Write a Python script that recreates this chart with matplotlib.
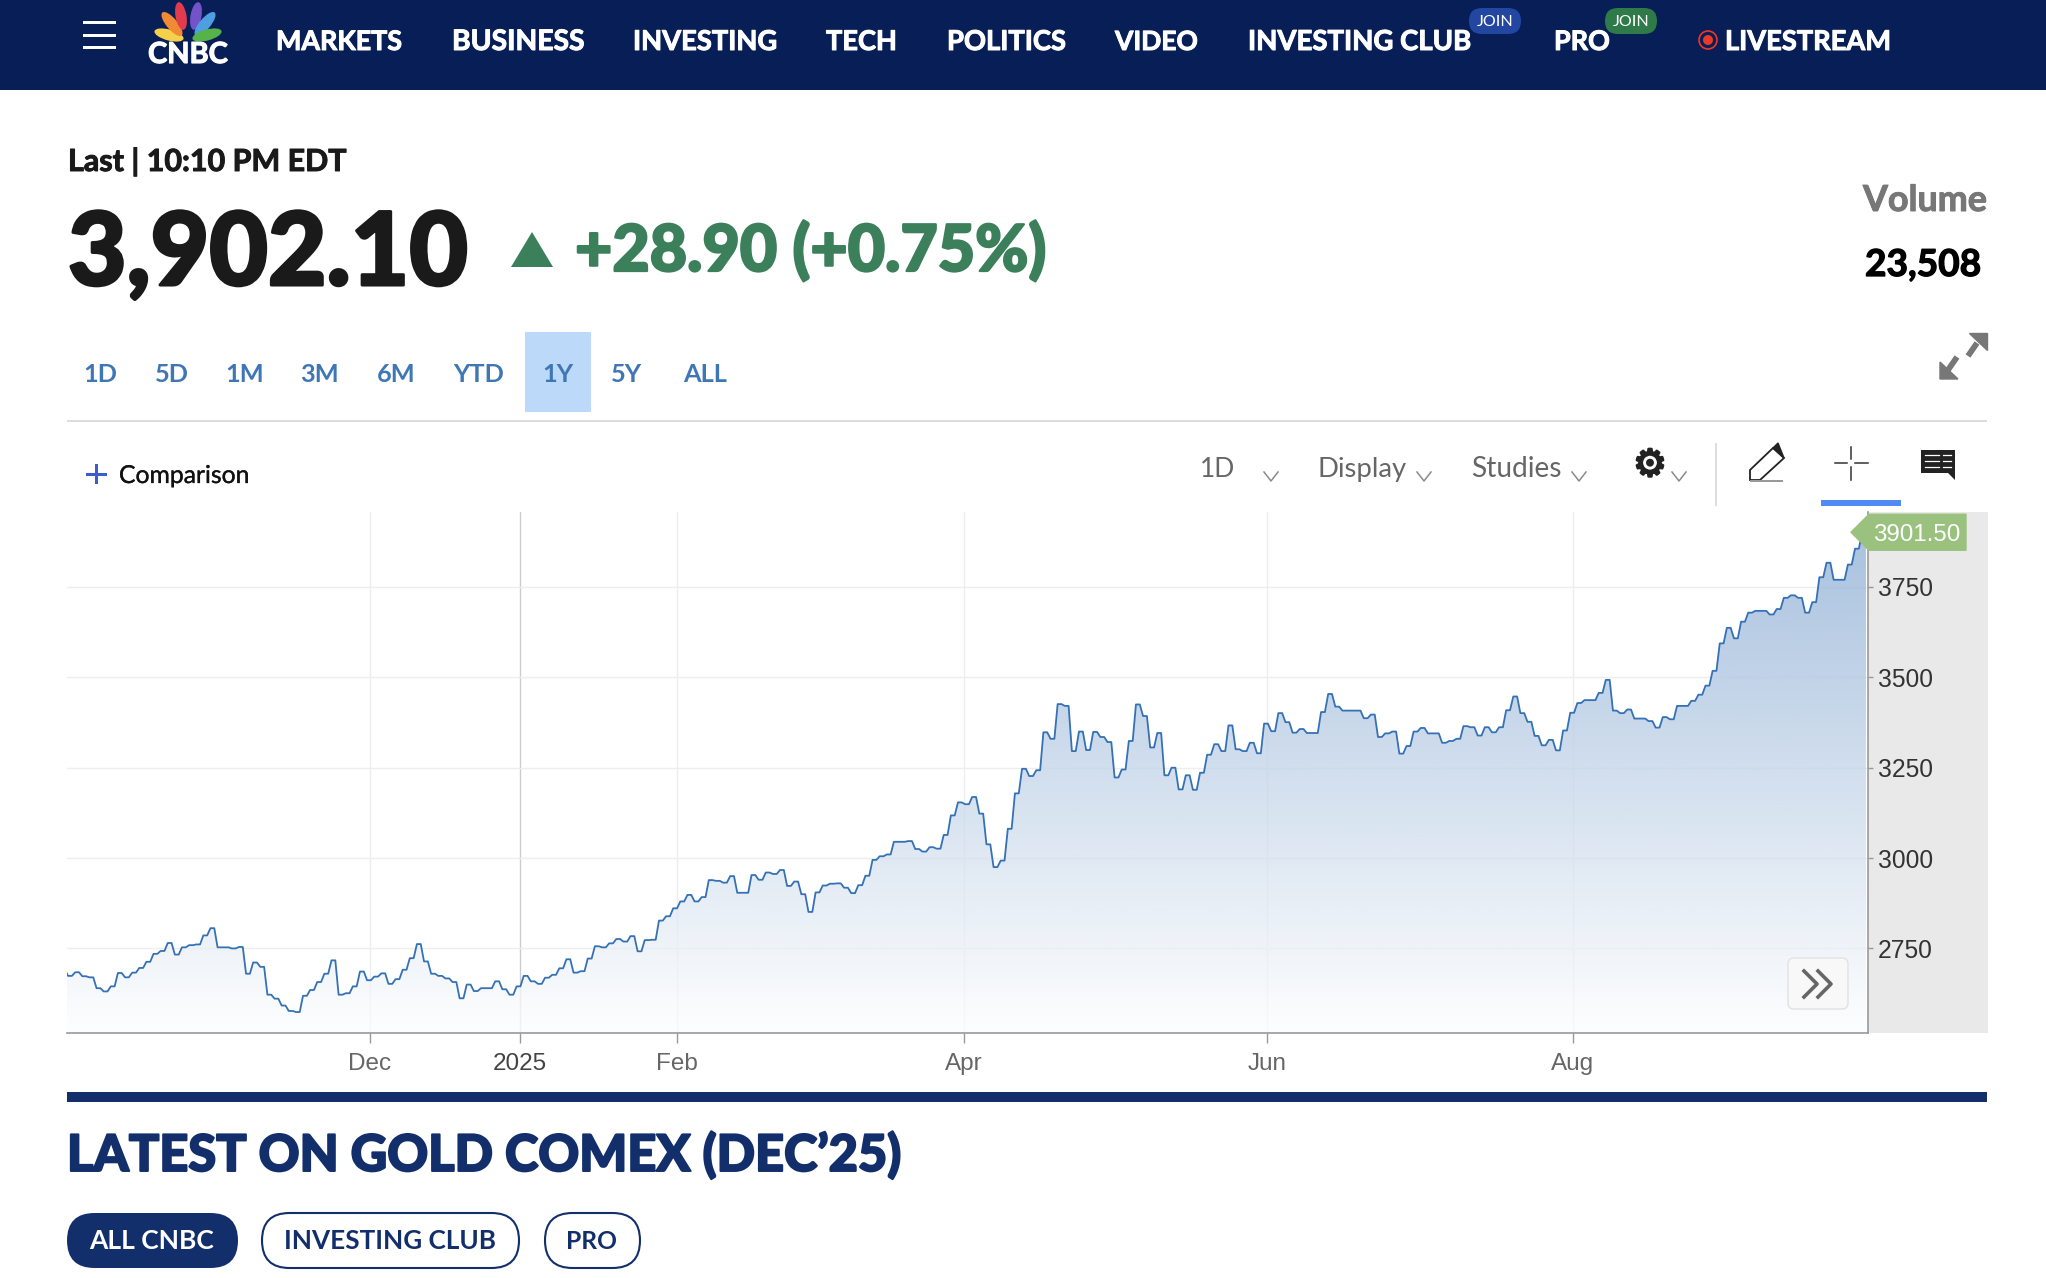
import numpy as np
import matplotlib
matplotlib.use('Agg')
import matplotlib.pyplot as plt
import matplotlib.patheffects as pe
from matplotlib.patches import Rectangle, Polygon, Ellipse, Circle, FancyBboxPatch

W, H = 2046, 1278

# daily closes, one per trading session
price = [2692, 2674, 2684, 2673, 2670, 2640, 2631, 2645, 2682, 2670, 2683, 2696, 2713, 2735, 2743, 2765,
         2733, 2753, 2759, 2761, 2786, 2806, 2753, 2753, 2750, 2754, 2680, 2711, 2699, 2622, 2611, 2592,
         2577, 2574, 2619, 2635, 2657, 2680, 2717, 2622, 2626, 2645, 2686, 2662, 2672, 2681, 2652, 2665,
         2691, 2723, 2762, 2714, 2680, 2674, 2667, 2657, 2612, 2650, 2632, 2640, 2640, 2659, 2637, 2622,
         2645, 2674, 2659, 2652, 2669, 2677, 2695, 2720, 2683, 2687, 2722, 2756, 2753, 2764, 2776, 2769,
         2784, 2742, 2773, 2774, 2827, 2839, 2861, 2880, 2898, 2880, 2892, 2939, 2937, 2932, 2950, 2904,
         2904, 2953, 2940, 2960, 2956, 2967, 2923, 2935, 2900, 2851, 2905, 2924, 2929, 2930, 2918, 2903,
         2925, 2951, 2995, 3005, 3010, 3045, 3045, 3047, 3025, 3018, 3030, 3026, 3064, 3118, 3154, 3149,
         3169, 3123, 3038, 2975, 2993, 3081, 3179, 3247, 3227, 3243, 3348, 3330, 3426, 3421, 3296,
         3350, 3299, 3349, 3335, 3321, 3223, 3245, 3324, 3425, 3393, 3306, 3346, 3229, 3250, 3190, 3229,
         3189, 3236, 3286, 3315, 3296, 3367, 3301, 3296, 3319, 3290, 3372, 3351, 3401, 3376, 3347, 3357,
         3346, 3346, 3404, 3454, 3419, 3408, 3408, 3408, 3387, 3397, 3335, 3345, 3350, 3289, 3310, 3350, 3360,
         3345, 3345, 3319, 3324, 3330, 3365, 3362, 3339, 3362, 3348, 3362, 3409, 3447, 3401, 3377, 3338,
         3312, 3327, 3298, 3353, 3402, 3429, 3437, 3437, 3457, 3493, 3408, 3401, 3411, 3386, 3386, 3379,
         3361, 3390, 3384, 3421, 3421, 3435, 3452, 3477, 3518, 3594, 3637, 3608, 3654, 3679, 3684, 3684,
         3674, 3689, 3720, 3727, 3720, 3679, 3708, 3777, 3817, 3770, 3770, 3812, 3856, 3901.5]

month_labels = ['Dec', '2025', 'Feb', 'Apr', 'Jun', 'Aug']
month_session = [43.1, 64.2, 86.3, 126.6, 169.2, 212.1]
price_ticks = [2750, 3000, 3250, 3500, 3750]

nav_items = [('MARKETS', 276, 402), ('BUSINESS', 452, 584), ('INVESTING', 633, 777), ('TECH', 826, 897),
             ('POLITICS', 947, 1066), ('VIDEO', 1115, 1198), ('INVESTING CLUB', 1248, 1471), ('PRO', 1554, 1610),
             ('LIVESTREAM', 1725, 1891)]
range_items = [('1D', 100), ('5D', 172), ('1M', 245), ('3M', 319), ('6M', 396),
               ('YTD', 479), ('1Y', 558), ('5Y', 627), ('ALL', 705)]
tool_items = [('Display', 1317, 1406, 1424), ('Studies', 1471, 1561, 1579)]

NAVY = '#081e57'
DARK = '#132f6b'
GREEN = '#3b7f5b'
BLUE = '#3f77b5'

plt.rcParams['font.family'] = ['Lato', 'DejaVu Sans']

fig = plt.figure(figsize=(W / 100, H / 100), dpi=100, facecolor='white')
renderer = fig.canvas.get_renderer()

# page in pixel coordinates, for everything around the chart
page = fig.add_axes([0, 0, 1, 1], zorder=1)
page.set_xlim(0, W)
page.set_ylim(H, 0)
page.axis('off')


def put(x0, x1, base, s, size, target=page, heavy=0, **kw):
    # text fitted to the width it has in the screenshot
    t = target.text(x0, base, s, fontsize=size, ha='left', va='baseline', **kw)
    w = t.get_window_extent(renderer).width
    t.set_fontsize(size * (x1 - x0) / w)
    if heavy:
        t.set_path_effects([pe.withStroke(linewidth=heavy, foreground=t.get_color())])
    return t


def box(x0, y0, x1, y1, color):
    page.add_patch(Rectangle((x0, y0), x1 - x0, y1 - y0, fc=color, ec='none'))


def pill(x0, y0, x1, y1, fc, ec='none', lw=0):
    r = (y1 - y0) / 2
    p = FancyBboxPatch((x0 + r, y0 + r), x1 - x0 - 2 * r, 0.001, boxstyle='round', fc=fc, ec=ec, lw=lw, zorder=2)
    p.set_boxstyle('round', pad=r, rounding_size=r)
    page.add_patch(p)


def chevron(x, y, color='#8a8a8a'):
    page.plot([x - 7, x, x + 7], [y - 4, y + 5, y - 4], color=color, lw=1.1)


# header
box(0, 0, W, 90, NAVY)
for y in (22, 35, 47):
    box(83, y - 1.5, 116, y + 1.5, 'white')
feathers = [(169, 35, 30, 11, 15, '#f5d04a'), (172, 24, 30, 11, 50, '#f08a34'), (181, 16, 28, 11, 80, '#e33b4e'),
            (196, 16, 28, 11, 100, '#7354c8'), (205, 24, 30, 11, 130, '#4d9fe0'), (207, 35, 30, 11, 165, '#55b34a')]
for fx, fy, fw, fh, ang, col in feathers:
    page.add_patch(Ellipse((fx, fy), fw, fh, angle=ang, fc=col, ec='none'))
put(148, 228, 63, 'CNBC', 20, color='white', fontweight='bold', heavy=0.8)
for s, x0, x1 in nav_items:
    put(x0, x1, 50, s, 18, color='white', fontweight='bold', heavy=0.7)
pill(1469, 8, 1521, 34, '#2346a0')
pill(1605, 8, 1657, 34, '#2e7a49')
put(1477, 1513, 26, 'JOIN', 10, color='white', zorder=3)
put(1613, 1649, 26, 'JOIN', 10, color='white', zorder=3)
page.add_patch(Circle((1708, 40), 9, fc='none', ec='#e8392b', lw=1.2))
page.add_patch(Circle((1708, 40), 5, fc='#e8392b', ec='none'))

# quote block
put(68, 346, 171, 'Last | 10:10 PM EDT', 22, color='#1a1a1a', fontweight='bold', heavy=0.7)
put(68, 468, 285, '3,902.10', 70, color='#1a1a1a', fontweight='black', heavy=2.2)
page.add_patch(Polygon([(511, 267), (532, 232), (553, 267)], fc=GREEN, ec='none'))
put(575, 1046, 271, '+28.90 (+0.75%)', 44, color=GREEN, fontweight='black', heavy=1.6)
put(1863, 1987, 211, 'Volume', 26, color='#777777', fontweight='bold', heavy=0.7)
put(1865, 1981, 276, '23,508', 26, color='black', fontweight='bold', heavy=0.9)
# expand icon
page.add_patch(Polygon([(1969, 333), (1987, 333), (1987, 350)], fc='#777777', ec='#777777', lw=1))
page.add_patch(Polygon([(1940, 379), (1940, 362), (1958, 379)], fc='#777777', ec='#777777', lw=1))
page.plot([1977, 1968], [343, 356], color='#777777', lw=4.2, solid_capstyle='butt')
page.plot([1948, 1957], [370, 357], color='#777777', lw=4.2, solid_capstyle='butt')

# range tabs
box(525, 332, 591, 412, '#bcd9fa')
for s, xc in range_items:
    t = page.text(xc, 382, s, fontsize=18.3, color=BLUE, fontweight='bold', ha='center', va='baseline')
box(67, 420, 1987, 422, '#dddddd')

# toolbar
box(86, 472.5, 107, 475.5, '#3a5fcc')
box(95, 464, 98, 484, '#3a5fcc')
put(119, 249, 483, 'Comparison', 18, color='#111111', heavy=0.2)
page.text(1218, 477, '1D', fontsize=19, color='#666666', ha='center', va='baseline')
chevron(1271, 476)
for s, x0, x1, cx in tool_items:
    put(x0, x1, 477, s, 18, color='#666666')
    chevron(cx, 476)
page.text(1650, 466, '\u2699', fontsize=27, family='DejaVu Sans', color='#222222', ha='center', va='center',
          path_effects=[pe.withStroke(linewidth=1.6, foreground='#222222')])
chevron(1679, 476)
box(1715, 443, 1717, 506, '#dddddd')
page.add_patch(Polygon([(1750, 480), (1750, 470), (1773, 448), (1784, 458), (1760, 480)], fc='white', ec='#222222', lw=1.3))
page.add_patch(Polygon([(1773, 448), (1778, 443), (1784, 458)], fc='#222222', ec='#222222', lw=1))
box(1750, 480, 1783, 482, '#999999')
for a, b in ((1835, 1847), (1855, 1868)):
    page.plot([a, b], [463, 463], color='#333333', lw=1.1)
for a, b in ((447, 459), (467, 480)):
    page.plot([1851, 1851], [a, b], color='#333333', lw=1.1)
box(1821, 500, 1901, 506, '#4f8af5')
page.add_patch(Polygon([(1921, 450), (1955, 450), (1955, 480), (1948, 473), (1921, 473)], fc='#222222', ec='none'))
for y in (455, 461, 467):
    page.plot([1925, 1939], [y, y], color='white', lw=0.9)
    page.plot([1943, 1951], [y, y], color='white', lw=0.9)

# grey price scale band
box(1868, 512, 1988, 1033, '#e9e9e9')

# bottom of the page
box(67, 1092, 1987, 1102, DARK)
put(67, 901, 1171, 'LATEST ON GOLD COMEX (DEC\u201925)', 44, color=DARK, fontweight='black', heavy=1.4)
pill(67, 1213, 238, 1268, DARK)
pill(262, 1213, 519, 1268, 'white', DARK, 1.5)
pill(545, 1213, 640, 1268, 'white', DARK, 1.5)
put(89, 214, 1249, 'ALL CNBC', 18, color='white', fontweight='bold', zorder=3)
put(284, 496, 1249, 'INVESTING CLUB', 18, color=DARK, fontweight='bold', zorder=3)
put(566, 617, 1249, 'PRO', 18, color=DARK, fontweight='bold', zorder=3)

# the chart itself
ax_l, ax_r, ax_t, ax_b = 67, 1867.6, 512, 1033
ax = fig.add_axes([ax_l / W, 1 - ax_b / H, (ax_r - ax_l) / W, (ax_b - ax_t) / H], zorder=2)
ax.patch.set_alpha(0)

session = np.arange(len(price))
# every session sits on a short flat step in the original rendering
xs = np.repeat(session, 2) + np.tile([-0.27, 0.27], len(price))
ys = np.repeat(price, 2)
xlim = (0.58, 253.5)
ylim = (2516, 3957.5)

grad = np.zeros((256, 1, 4))
grad[..., 0], grad[..., 1], grad[..., 2] = 58 / 255, 115 / 255, 181 / 255
grad[:, 0, 3] = np.linspace(0.454, 0.01, 256)
# white under the gradient so the grid only just shows through
poly = ax.fill_between(xs, ys, ylim[0], facecolor='white', edgecolor='none', alpha=0.75, zorder=1.5)
img = ax.imshow(grad, extent=(xlim[0], xlim[1], ylim[0], ylim[1]), aspect='auto', origin='upper', zorder=2)
img.set_clip_path(poly.get_paths()[0], transform=ax.transData)
ax.plot(xs, ys, color='#3571b5', lw=1.3, zorder=3, solid_joinstyle='round')

ax.set_xlim(*xlim)
ax.set_ylim(*ylim)
ax.set_xticks(month_session)
ax.set_xticklabels(month_labels, family='Liberation Sans')
ax.set_yticks(price_ticks)
ax.set_yticklabels([str(v) for v in price_ticks], family='Liberation Sans')
ax.yaxis.tick_right()
ax.tick_params(axis='x', length=7.2, width=1, color='#999999', labelsize=17.5, labelcolor='#666666', pad=7)
ax.tick_params(axis='y', length=3.6, width=1, color='#999999', labelsize=17.7, labelcolor='#333333', pad=3.6)
ax.get_xticklabels()[1].set_color('#444444')
ax.grid(True, color='#eeeeee', lw=1.0, zorder=1)
ax.set_axisbelow(True)
ax.get_xgridlines()[1].set_color('#cccccc')
for side in ('top', 'left'):
    ax.spines[side].set_visible(False)
for side in ('bottom', 'right'):
    ax.spines[side].set_color('#999999')
    ax.spines[side].set_linewidth(1.2)

# last price tag, hung on the last value
tag_y = page.transData.inverted().transform(ax.transData.transform((0, price[-1])))[1]
tag = Polygon([(1851, tag_y), (1869, tag_y - 18), (1966, tag_y - 18), (1966, tag_y + 18), (1869, tag_y + 18)],
              fc='#9bc17f', ec='#9bc17f', lw=1, joinstyle='round', transform=page.transData, clip_on=False, zorder=10)
ax.add_patch(tag)
put(1873, 1960, tag_y + 9, '%.2f' % price[-1], 17, target=ax, color='white', family='Liberation Sans',
    transform=page.transData, zorder=11, clip_on=False)

# scroll to latest button
btn = FancyBboxPatch((1788, 958), 60, 51, boxstyle='round,pad=0,rounding_size=6', fc='#f8f8f8', ec='#e2e2e2', lw=1,
                     transform=page.transData, clip_on=False, zorder=10)
ax.add_patch(btn)
for dx in (0, 14):
    ax.plot([1804 + dx, 1817 + dx, 1804 + dx], [971, 984, 997], color='#666666', lw=2.6,
            transform=page.transData, zorder=11, clip_on=False)

fig.savefig('out.png', dpi=100, facecolor='white')
